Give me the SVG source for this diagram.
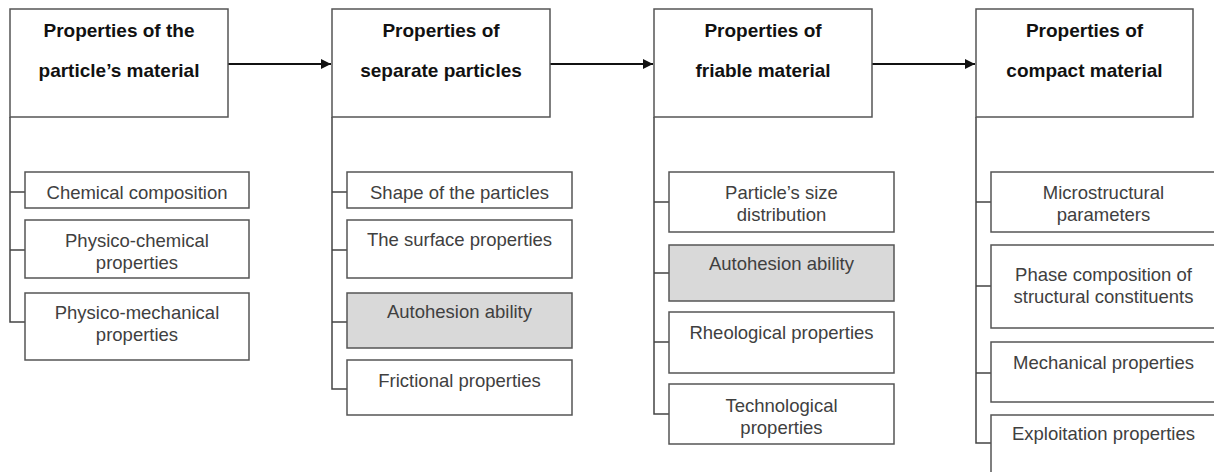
<svg xmlns="http://www.w3.org/2000/svg" width="1214" height="472" viewBox="0 0 1214 472">
<style>
.box{fill:#fff;stroke:#555;stroke-width:1.5}
.gray{fill:#d9d9d9;stroke:#555;stroke-width:1.5}
.title{font-family:"Liberation Sans",Arial,sans-serif;font-weight:bold;font-size:19px;fill:#111;text-anchor:middle}
.lbl{font-family:"Liberation Sans",Arial,sans-serif;font-size:18.5px;fill:#404040;text-anchor:middle}
.tree{fill:none;stroke:#444;stroke-width:1.5}
.arr{fill:none;stroke:#111;stroke-width:2}
</style>
<defs>
<marker id="ah" viewBox="0 0 10 10" refX="10" refY="5" markerWidth="5" markerHeight="5" markerUnits="strokeWidth" orient="auto">
<path d="M0,0 L10,5 L0,10 z" fill="#111"/>
</marker>
</defs>
<g id="connectors">
<path class="arr" d="M228,64 H331" marker-end="url(#ah)"/>
<path class="arr" d="M550,64 H653" marker-end="url(#ah)"/>
<path class="arr" d="M872,64 H975" marker-end="url(#ah)"/>
<path class="tree" d="M10,117 V322 H25 M10,192 H25 M10,250 H25"/>
<path class="tree" d="M332,117 V389 H347 M332,192 H347 M332,250 H347 M332,322 H347"/>
<path class="tree" d="M654,117 V414 H669 M654,202 H669 M654,273 H669 M654,342 H669"/>
<path class="tree" d="M976,117 V443 H991 M976,202 H991 M976,286 H991 M976,373 H991"/>
</g>
<g id="n1"><rect class="box" x="10" y="9" width="218" height="108"/><text class="title" x="119" y="37">Properties of the</text><text class="title" x="119" y="77">particle’s material</text></g>
<g id="n2"><rect class="box" x="332" y="9" width="218" height="108"/><text class="title" x="441" y="37">Properties of</text><text class="title" x="441" y="77">separate particles</text></g>
<g id="n3"><rect class="box" x="654" y="9" width="218" height="108"/><text class="title" x="763" y="37">Properties of</text><text class="title" x="763" y="77">friable material</text></g>
<g id="n4"><rect class="box" x="976" y="9" width="217" height="108"/><text class="title" x="1084.5" y="37">Properties of</text><text class="title" x="1084.5" y="77">compact material</text></g>

<g id="c1a"><rect class="box" x="25" y="172" width="224" height="36"/><text class="lbl" x="137" y="199">Chemical composition</text></g>
<g id="c1b"><rect class="box" x="25" y="220" width="224" height="58"/><text class="lbl" x="137" y="247">Physico-chemical</text><text class="lbl" x="137" y="269">properties</text></g>
<g id="c1c"><rect class="box" x="25" y="293" width="224" height="67"/><text class="lbl" x="137" y="319">Physico-mechanical</text><text class="lbl" x="137" y="341">properties</text></g>

<g id="c2a"><rect class="box" x="347" y="172" width="225" height="36"/><text class="lbl" x="459.5" y="199">Shape of the particles</text></g>
<g id="c2b"><rect class="box" x="347" y="220" width="225" height="58"/><text class="lbl" x="459.5" y="246">The surface properties</text></g>
<g id="c2c"><rect class="gray" x="347" y="293" width="225" height="55"/><text class="lbl" x="459.5" y="318">Autohesion ability</text></g>
<g id="c2d"><rect class="box" x="347" y="360" width="225" height="55"/><text class="lbl" x="459.5" y="387">Frictional properties</text></g>

<g id="c3a"><rect class="box" x="669" y="172" width="225" height="60"/><text class="lbl" x="781.5" y="199">Particle’s size</text><text class="lbl" x="781.5" y="221">distribution</text></g>
<g id="c3b"><rect class="gray" x="669" y="245" width="225" height="56"/><text class="lbl" x="781.5" y="270">Autohesion ability</text></g>
<g id="c3c"><rect class="box" x="669" y="312" width="225" height="61"/><text class="lbl" x="781.5" y="339">Rheological properties</text></g>
<g id="c3d"><rect class="box" x="669" y="384" width="225" height="60"/><text class="lbl" x="781.5" y="412">Technological</text><text class="lbl" x="781.5" y="434">properties</text></g>

<g id="c4a"><rect class="box" x="991" y="172" width="225" height="60"/><text class="lbl" x="1103.5" y="199">Microstructural</text><text class="lbl" x="1103.5" y="221">parameters</text></g>
<g id="c4b"><rect class="box" x="991" y="245" width="225" height="83"/><text class="lbl" x="1103.5" y="281">Phase composition of</text><text class="lbl" x="1103.5" y="303">structural constituents</text></g>
<g id="c4c"><rect class="box" x="991" y="342" width="225" height="60"/><text class="lbl" x="1103.5" y="369">Mechanical properties</text></g>
<g id="c4d"><rect class="box" x="991" y="415" width="225" height="62"/><text class="lbl" x="1103.5" y="440">Exploitation properties</text></g>
</svg>
